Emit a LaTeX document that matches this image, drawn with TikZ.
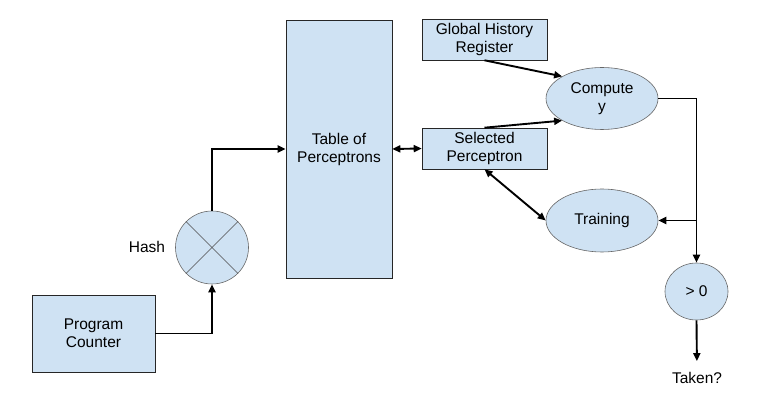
\documentclass[tikz,border=0pt]{standalone}
\usepackage{fontspec}
\setmainfont{Liberation Sans}
\usetikzlibrary{arrows.meta,shapes.geometric}
\definecolor{cellblue}{HTML}{CFE2F3}
\tikzset{
  box/.style={draw=black!85, fill=cellblue, line width=0.6pt, align=center, inner sep=0pt},
  oval/.style={ellipse, draw=black!60, fill=cellblue, line width=0.6pt, align=center, inner sep=0pt},
  tip/.tip={Triangle[length=8pt,width=7pt]},
  link/.style={line width=1.9pt, -tip},
  twoway/.style={line width=1.9pt, tip-tip},
}

\begin{document}
\begin{tikzpicture}[x=1pt,y=-1pt,font=\fontsize{15.5}{18}\selectfont]
        \useasboundingbox (0,0) rectangle (779,403);%
        \node[box, minimum width=123pt, minimum height=77pt] (pc) at (93.5,333.5) {Program\\Counter};%
        \node[circle, draw=black!60, fill=cellblue, line width=0.6pt, minimum size=73pt] (hash) at (212,247.5) {};%
        \draw[black!70, line width=0.6pt] (hash.45) -- (hash.225);%
        \draw[black!70, line width=0.6pt] (hash.135) -- (hash.315);%
        \node (hashtext) at (147,247) {Hash};%
        \node[box, minimum width=106pt, minimum height=258pt] (table) at (339,149) {Table of\\Perceptrons};%
        \node[box, minimum width=125pt, minimum height=41pt] (ghr) at (484.5,39.5) {Global History\\Register};%
        \node[box, minimum width=125pt, minimum height=41pt] (sel) at (484.5,148.5) {Selected\\Perceptron};%
        \node[oval, minimum width=112pt, minimum height=62pt] (comp) at (602,98.5) {Compute\\y};%
        \node[oval, minimum width=112pt, minimum height=63pt] (train) at (602,220.5) {Training};%
        \node[oval, minimum width=63pt, minimum height=57pt] (gt) at (696.5,291.5) {> 0};%
        \node[inner sep=1pt] (taken) at (697,378) {Taken?};%
        \coordinate (split) at (gt.north |- train.east);%
        \draw[link] (pc.east) -| (hash.south);%
        \draw[link] (hash.north) |- (table.west);%
        \draw[twoway] (table.east) -- (sel.west);%
        \draw[link] (ghr.south) -- (comp.151);%
        \draw[link] (sel.north) -- (comp.209);%
        \draw[twoway] (sel.south) -- (train.west);%
        \draw[link] (comp.east) -| (gt.north);%
        \draw[link] (split) -- (train.east);%
        \draw[link, shorten >=10pt] (gt.south) -- (taken.north);%
      \end{tikzpicture}
\end{document}
